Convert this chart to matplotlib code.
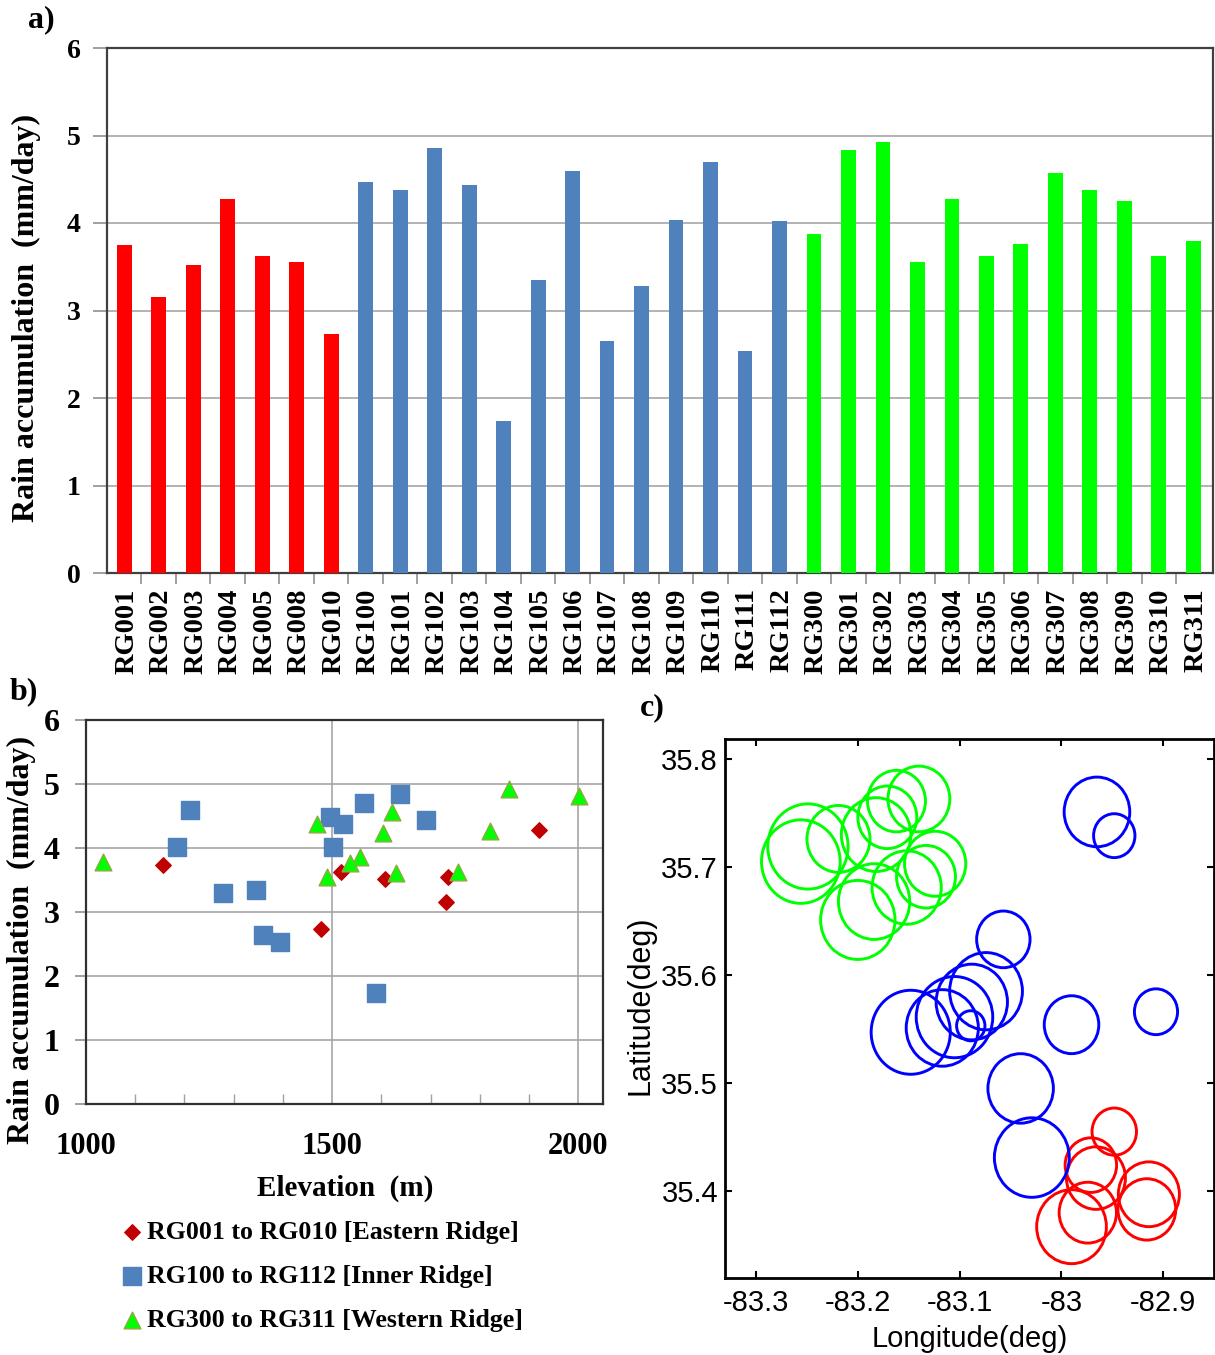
import numpy as np
import matplotlib
matplotlib.use('Agg')
import matplotlib.pyplot as plt
from matplotlib.patches import Ellipse
from matplotlib.ticker import MultipleLocator
from matplotlib.transforms import ScaledTranslation

W, H = 1215, 1355
SERIF = 'Liberation Serif'
SANS = 'Liberation Sans'

# Estaciones
east_names = ['RG001', 'RG002', 'RG003', 'RG004', 'RG005', 'RG008', 'RG010']
inner_names = ['RG100', 'RG101', 'RG102', 'RG103', 'RG104', 'RG105', 'RG106',
               'RG107', 'RG108', 'RG109', 'RG110', 'RG111', 'RG112']
west_names = ['RG300', 'RG301', 'RG302', 'RG303', 'RG304', 'RG305',
              'RG306', 'RG307', 'RG308', 'RG309', 'RG310', 'RG311']

# Acumulacion de lluvia (mm/day)
east_rain = [3.75, 3.16, 3.52, 4.28, 3.62, 3.55, 2.73]
inner_rain = [4.47, 4.38, 4.86, 4.43, 1.74, 3.35, 4.60, 2.65, 3.28, 4.03, 4.70, 2.54, 4.02]
west_rain = [3.87, 4.83, 4.93, 3.56, 4.27, 3.62, 3.76, 4.57, 4.38, 4.25, 3.62, 3.80]

# Elevacion (m) de los puntos del panel b
east_elev = [1156, 1731, 1607, 1920, 1518, 1735, 1477]
inner_elev = [1495, 1521, 1637, 1690, 1588, 1346, 1564, 1360, 1278, 1502, 1211, 1394, 1185]
west_elev = [1557, 2001, 1859, 1490, 1820, 1630, 1035, 1622, 1470, 1604, 1756, 1536]
# valores del panel b para cada estacion, en el mismo orden
east_b = [3.74, 3.16, 3.52, 4.28, 3.63, 3.54, 2.73]
inner_b = [4.49, 4.38, 4.85, 4.44, 1.74, 3.34, 4.70, 2.64, 3.29, 4.02, 4.59, 2.53, 4.02]
west_b = [3.86, 4.82, 4.92, 3.55, 4.27, 3.61, 3.78, 4.57, 4.37, 4.23, 3.62, 3.76]

# Posicion de las estaciones (panel c)
east_lon = [-82.914, -82.971, -82.974, -82.990, -82.966, -82.916, -82.948]
east_lat = [35.397, 35.424, 35.380, 35.367, 35.412, 35.383, 35.455]
inner_lon = [-83.074, -83.088, -83.148, -83.117, -83.089, -82.990, -83.029,
             -82.907, -83.057, -82.965, -83.105, -82.948, -83.040]
inner_lat = [35.585, 35.575, 35.547, 35.551, 35.553, 35.554, 35.431,
             35.566, 35.633, 35.751, 35.561, 35.729, 35.495]
west_lon = [-83.219, -83.256, -83.249, -83.162, -83.182, -83.171,
            -83.124, -83.200, -83.184, -83.152, -83.133, -83.140]
west_lat = [35.726, 35.705, 35.719, 35.761, 35.730, 35.746,
            35.703, 35.651, 35.668, 35.681, 35.691, 35.763]


def make_axes(fig, left, top, right, bottom):
    return fig.add_axes([left / W, 1 - bottom / H, (right - left) / W, (bottom - top) / H])


fig = plt.figure(figsize=(W / 100, H / 100), dpi=100)

# Panel a: barras por estacion
ax_a = make_axes(fig, 107, 48, 1213, 573)
names = east_names + inner_names + west_names
rain = east_rain + inner_rain + west_rain
colors = ['#ff0000'] * len(east_names) + ['#4f81bd'] * len(inner_names) + ['#00ff00'] * len(west_names)
pos = np.arange(len(names))
ax_a.bar(pos, rain, width=0.43, color=colors, zorder=3)
ax_a.set_xlim(-0.5, len(names) - 0.43)
ax_a.set_ylim(0, 6)
ax_a.set_xticks(pos)
ax_a.set_xticklabels(names, rotation=90, family=SERIF, fontweight='bold', fontsize=20.5)
ax_a.set_xticks(pos[:-1] + 0.5, minor=True)
ax_a.tick_params(axis='x', which='major', length=0, pad=11)
ax_a.tick_params(axis='x', which='minor', length=8, width=1.2, color='#909090')
ax_a.tick_params(axis='y', length=10, width=1.2, color='#909090', pad=9)
# las etiquetas van un poco a la derecha del centro de la barra
shift = ScaledTranslation(2.5 / 100, 0, fig.dpi_scale_trans)
for lab in ax_a.get_xticklabels():
    lab.set_transform(lab.get_transform() + shift)
ax_a.set_yticks(range(7))
ax_a.set_yticklabels(range(7), family=SERIF, fontweight='bold', fontsize=20)
ax_a.grid(axis='y', color='#a6a6a6', linewidth=1.2, zorder=0)
ax_a.set_axisbelow(True)
for s in ax_a.spines.values():
    s.set_linewidth(1.6)
    s.set_color('#404040')
fig.text(12 / W, 1 - 318 / H, 'Rain accumulation  (mm/day)', rotation=90, va='center', ha='left',
         family=SERIF, fontweight='bold', fontsize=23)

# Panel b: lluvia contra elevacion
ax_b = make_axes(fig, 86, 720, 603, 1104)
ax_b.scatter(inner_elev, inner_b, marker='s', s=150, color='#4f81bd', zorder=3,
             label='RG100 to RG112 [Inner Ridge]')
ax_b.scatter(east_elev, east_b, marker='D', s=62, color='#c00000', zorder=4,
             label='RG001 to RG010 [Eastern Ridge]')
ax_b.scatter(west_elev, west_b, marker='^', s=145, color='#00ff00', edgecolor='#8faa40',
             linewidth=1, zorder=5, label='RG300 to RG311 [Western Ridge]')
ax_b.set_xlim(1000, 2050)
ax_b.set_ylim(0, 6)
ax_b.set_xticks([1000, 1500, 2000])
ax_b.set_xticklabels(['1000', '1500', '2000'], family=SERIF, fontweight='bold', fontsize=22)
ax_b.xaxis.set_minor_locator(MultipleLocator(100))
ax_b.set_yticks(range(7))
ax_b.set_yticklabels(range(7), family=SERIF, fontweight='bold', fontsize=23)
ax_b.tick_params(axis='x', which='major', direction='in', length=0, pad=20)
ax_b.tick_params(axis='x', which='minor', direction='in', length=7, width=1, color='#a0a0a0')
ax_b.tick_params(axis='y', length=8, width=1.2, color='#909090', pad=11)
ax_b.grid(True, which='major', color='#a6a6a6', linewidth=1.2)
ax_b.set_axisbelow(True)
for s in ax_b.spines.values():
    s.set_linewidth(1.6)
    s.set_color('#303030')
fig.text(345 / W, 1 - 1188 / H, 'Elevation  (m)', ha='center', va='center',
         family=SERIF, fontweight='bold', fontsize=21)
fig.text(7 / W, 1 - 940 / H, 'Rain accumulation  (mm/day)', rotation=90, va='center', ha='left',
         family=SERIF, fontweight='bold', fontsize=23)

handles, labels = ax_b.get_legend_handles_labels()
order = [1, 0, 2]
fig.legend([handles[i] for i in order], [labels[i] for i in order], loc='upper left',
           bbox_to_anchor=(119 / W, 1 - 1221 / H), frameon=False, borderpad=0, borderaxespad=0,
           handlelength=1.0, handletextpad=0.1, labelspacing=0.8, markerscale=1.0,
           prop={'family': SERIF, 'weight': 'bold', 'size': 18.6})

# Panel c: mapa, radio de cada circulo proporcional a la lluvia
ax_c = make_axes(fig, 725, 739, 1214, 1278)
R_LON = 0.0080  # grados por mm/day
R_LAT = 0.0080
groups = [(east_lon, east_lat, east_rain, '#ff0000'),
          (inner_lon, inner_lat, inner_rain, '#0000ff'),
          (west_lon, west_lat, west_rain, '#00ff00')]
for lons, lats, vals, col in groups:
    for lon, lat, v in zip(lons, lats, vals):
        ax_c.add_patch(Ellipse((lon, lat), 2 * v * R_LON, 2 * v * R_LAT, fill=False,
                               edgecolor=col, linewidth=2.1))
ax_c.set_xlim(-83.3305, -82.85)
ax_c.set_ylim(35.3195, 35.8185)
ax_c.set_xticks([-83.3, -83.2, -83.1, -83.0, -82.9])
ax_c.set_xticklabels(['-83.3', '-83.2', '-83.1', '-83', '-82.9'], family=SANS, fontsize=21)
ax_c.set_yticks([35.4, 35.5, 35.6, 35.7, 35.8])
ax_c.set_yticklabels(['35.4', '35.5', '35.6', '35.7', '35.8'], family=SANS, fontsize=21)
ax_c.tick_params(axis='x', direction='in', length=5, width=1.5, top=True, pad=8)
ax_c.tick_params(axis='y', direction='in', length=5, width=1.5, right=True, pad=5)
for s in ax_c.spines.values():
    s.set_linewidth(2)
    s.set_color('black')
ax_c.set_xlabel('Longitude(deg)', family=SANS, fontsize=21, labelpad=6)
fig.text(640 / W, 1 - 1005 / H, 'Latitude(deg)', rotation=90, ha='center', va='center',
         family=SANS, fontsize=22)

# Letras de los paneles
for x, y, lab in [(28, 20, 'a)'), (10, 692, 'b)'), (640, 708, 'c)')]:
    fig.text(x / W, 1 - y / H, lab, ha='left', va='center', family=SERIF, fontweight='bold', fontsize=23)

fig.savefig('out.png', dpi=100)
